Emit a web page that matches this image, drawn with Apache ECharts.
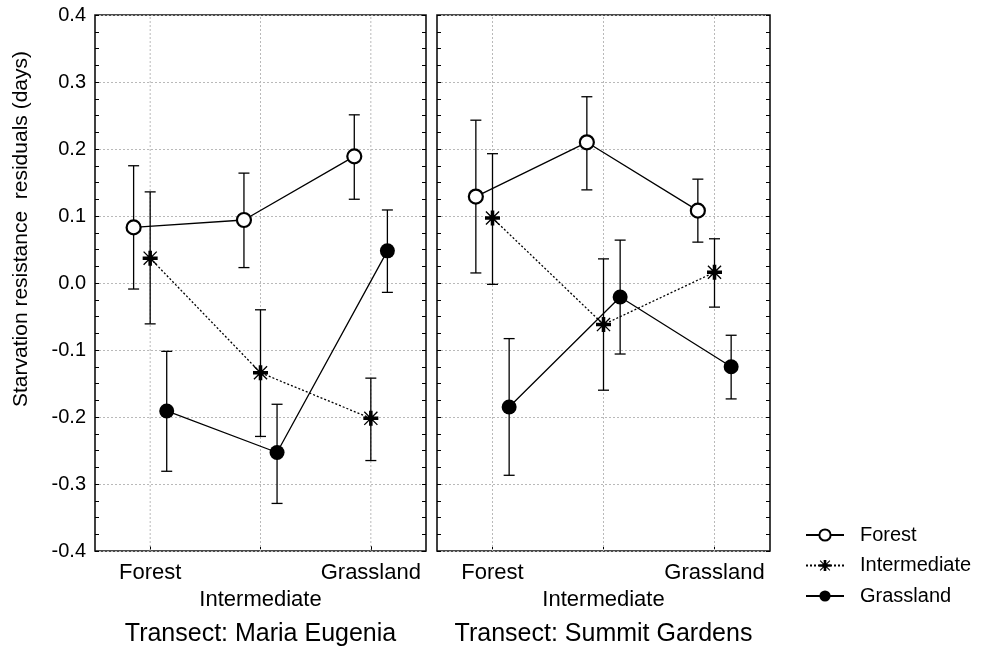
<!DOCTYPE html>
<html>
<head>
<meta charset="utf-8">
<script src="https://cdn.jsdelivr.net/npm/echarts@6/dist/echarts.min.js"></script>
<style>html,body{margin:0;padding:0;background:#fff}#c{width:988px;height:652px}</style>
</head>
<body>
<div id="c"></div>
<script>
// ---- data ----
const categories = ['Forest', 'Intermediate', 'Grassland'];
const seriesNames = ['Forest', 'Intermediate', 'Grassland'];
const transects = ['Transect: Maria Eugenia', 'Transect: Summit Gardens'];
const yAxisTitle = 'Starvation resistance  residuals (days)';

// Transect: Maria Eugenia
const meForest   = [0.083, 0.094, 0.189];
const meForestLo = [-0.009, 0.023, 0.125];
const meForestHi = [0.175, 0.164, 0.251];
const meInter    = [0.037, -0.134, -0.202];
const meInterLo  = [-0.061, -0.229, -0.265];
const meInterHi  = [0.136, -0.040, -0.142];
const meGrass    = [-0.191, -0.253, 0.048];
const meGrassLo  = [-0.281, -0.329, -0.014];
const meGrassHi  = [-0.102, -0.181, 0.109];

// Transect: Summit Gardens
const sgForest   = [0.129, 0.210, 0.108];
const sgForestLo = [0.015, 0.139, 0.061];
const sgForestHi = [0.243, 0.278, 0.155];
const sgInter    = [0.097, -0.062, 0.016];
const sgInterLo  = [-0.002, -0.160, -0.036];
const sgInterHi  = [0.193, 0.036, 0.066];
const sgGrass    = [-0.185, -0.021, -0.125];
const sgGrassLo  = [-0.287, -0.106, -0.173];
const sgGrassHi  = [-0.083, 0.064, -0.078];

// ---- styling / layout ----
const FONT = 'Liberation Sans, Arial, sans-serif';
const Y_MIN = -0.4, Y_MAX = 0.4, Y_INT = 0.1;
const offsets = [-0.15, 0, 0.15];
const gridColor = '#b9b9b9';
const ASTERISK = 'path://M2 8.1L18 8.1L18 11.9L2 11.9Z M8.1 2L11.9 2L11.9 18L8.1 18Z M3.5 2.5L17.5 16.5L16.5 17.5L2.5 3.5Z M16.5 2.5L17.5 3.5L3.5 17.5L2.5 16.5Z';
const symbols = [
  {symbol: 'circle', symbolSize: 14, itemStyle: {color: '#fff', borderColor: '#000', borderWidth: 2.2}},
  {symbol: ASTERISK, symbolSize: 15, itemStyle: {color: '#000', borderWidth: 0}},
  {symbol: 'circle', symbolSize: 15, itemStyle: {color: '#000', borderWidth: 0}}
];
const lineTypes = ['solid', [2, 2], 'solid'];

const panels = [
  {means: [meForest, meInter, meGrass], lo: [meForestLo, meInterLo, meGrassLo], hi: [meForestHi, meInterHi, meGrassHi]},
  {means: [sgForest, sgInter, sgGrass], lo: [sgForestLo, sgInterLo, sgGrassLo], hi: [sgForestHi, sgInterHi, sgGrassHi]}
];

const grids = [
  {left: 95, top: 15, width: 331, height: 537, show: true, borderColor: '#111', borderWidth: 1.6, backgroundColor: '#fff'},
  {left: 437, top: 15, width: 333, height: 537, show: true, borderColor: '#111', borderWidth: 1.6, backgroundColor: '#fff'}
];

const labelStyle = {color: '#000', fontFamily: FONT, fontSize: 22};
const xAxes = [], yAxes = [], series = [];
panels.forEach((p, gi) => {
  // main x axis: Forest / Grassland labels, ticks, transect title
  xAxes.push({
    type: 'value', gridIndex: gi, min: -0.5, max: 2.5, position: 'bottom',
    axisLine: {show: false, onZero: false},
    splitLine: {show: false},
    axisTick: {show: true, inside: true, length: 5, customValues: [0, 1, 2], lineStyle: {color: '#000', width: 1}},
    axisLabel: Object.assign({
      customValues: [0, 2], margin: 11, hideOverlap: false,
      formatter: v => categories[Math.round(v)]
    }, labelStyle),
    name: transects[gi], nameLocation: 'middle', nameGap: 71,
    nameTextStyle: {color: '#000', fontFamily: FONT, fontSize: 25}
  });
  // second x axis for the staggered middle label
  xAxes.push({
    type: 'value', gridIndex: gi, min: -0.5, max: 2.5, position: 'bottom',
    axisLine: {show: false, onZero: false},
    splitLine: {show: false},
    axisTick: {show: false},
    axisLabel: Object.assign({
      customValues: [1], margin: 38, hideOverlap: false,
      formatter: v => categories[Math.round(v)]
    }, labelStyle)
  });
  const yLeft = {
    type: 'value', gridIndex: gi, min: Y_MIN, max: Y_MAX, interval: Y_INT, position: 'left',
    axisLine: {show: false, onZero: false},
    axisTick: {show: true, inside: true, length: 4, lineStyle: {color: '#000'}},
    minorTick: {show: true, splitNumber: 4, length: 4, lineStyle: {color: '#000'}},
    splitLine: {show: true, lineStyle: {color: gridColor, type: [2, 2], width: 1}},
    axisLabel: {show: gi === 0, margin: 9, color: '#000', fontFamily: FONT, fontSize: 20, formatter: v => v.toFixed(1)}
  };
  if (gi === 0) {
    yLeft.name = yAxisTitle;
    yLeft.nameLocation = 'middle';
    yLeft.nameGap = 63;
    yLeft.nameTextStyle = {color: '#000', fontFamily: FONT, fontSize: 21, padding: [0, 0, 0, 108]};
  }
  yAxes.push(yLeft);
  yAxes.push({
    type: 'value', gridIndex: gi, min: Y_MIN, max: Y_MAX, interval: Y_INT, position: 'right',
    axisLine: {show: false, onZero: false},
    axisTick: {show: true, inside: true, length: 4, lineStyle: {color: '#000'}},
    minorTick: {show: true, splitNumber: 4, length: 4, lineStyle: {color: '#000'}},
    splitLine: {show: false},
    axisLabel: {show: false}
  });
  const xi = gi * 2, yi = gi * 2;
  // vertical grid lines at category centres
  series.push({
    type: 'custom', name: 'vgrid' + gi, xAxisIndex: xi, yAxisIndex: yi, silent: true, z: 1,
    data: categories.map((c, i) => [i, 0]),
    encode: {x: 0, y: 1},
    renderItem: (params, api) => {
      const a = api.coord([api.value(0), Y_MIN]);
      const b = api.coord([api.value(0), Y_MAX]);
      return {type: 'line', shape: {x1: a[0], y1: a[1], x2: b[0], y2: b[1]},
              style: {stroke: gridColor, lineWidth: 1, lineDash: [2, 2]}};
    }
  });
  seriesNames.forEach((name, si) => {
    // error bars
    series.push({
      type: 'custom', name: 'err-' + name + gi, xAxisIndex: xi, yAxisIndex: yi, silent: true, z: 2,
      data: p.means[si].map((v, i) => [i + offsets[si], p.lo[si][i], p.hi[si][i]]),
      encode: {x: 0, y: [1, 2]},
      renderItem: (params, api) => {
        const x = api.value(0);
        const lo = api.coord([x, api.value(1)]);
        const hi = api.coord([x, api.value(2)]);
        const w = 5.5;
        const st = {stroke: '#000', lineWidth: 1.3};
        return {type: 'group', children: [
          {type: 'line', shape: {x1: lo[0], y1: lo[1], x2: hi[0], y2: hi[1]}, style: st},
          {type: 'line', shape: {x1: lo[0] - w, y1: lo[1], x2: lo[0] + w, y2: lo[1]}, style: st},
          {type: 'line', shape: {x1: hi[0] - w, y1: hi[1], x2: hi[0] + w, y2: hi[1]}, style: st}
        ]};
      }
    });
    series.push(Object.assign({
      type: 'line', name: name, xAxisIndex: xi, yAxisIndex: yi, z: 3,
      data: p.means[si].map((v, i) => [i + offsets[si], v]),
      showSymbol: true, animation: false,
      lineStyle: {color: '#000', width: 1.3, type: lineTypes[si]}
    }, symbols[si]));
  });
});

const chart = echarts.init(document.getElementById('c'), null, {renderer: 'canvas'});
chart.setOption({
  animation: false,
  backgroundColor: '#fff',
  textStyle: {fontFamily: FONT},
  grid: grids,
  xAxis: xAxes,
  yAxis: yAxes,
  legend: {
    data: seriesNames, orient: 'vertical', left: 800, top: 520,
    itemWidth: 38, itemHeight: 14, itemGap: 10.5,
    textStyle: {color: '#000', fontFamily: FONT, fontSize: 20, padding: [0, 0, 0, 11]}
  },
  series: series
});
</script>
</body>
</html>
